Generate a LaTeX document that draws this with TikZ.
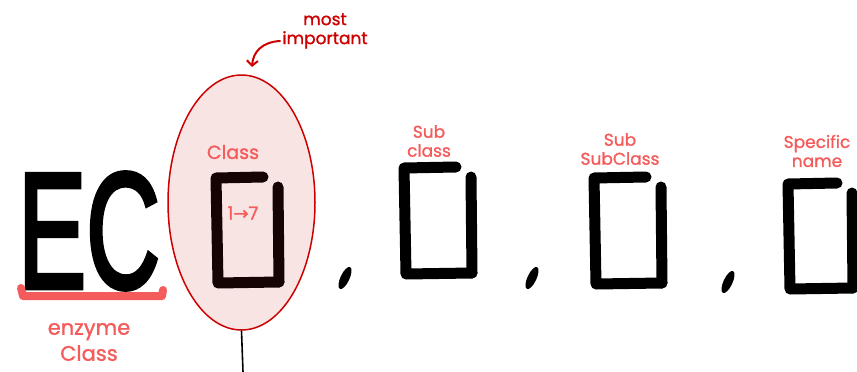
\documentclass[tikz,border=0pt]{standalone}
\usepackage{fontspec}
\newfontfamily\handfont[FakeBold=1.2]{Poppins}
\newfontfamily\ecfont[FakeBold=3]{Liberation Sans}
\newfontfamily\arrowfont[FakeBold=1.2]{DejaVu Sans}
\usepackage{tikz}
\usetikzlibrary{arrows.meta, shapes.geometric}
\definecolor{salmon}{HTML}{F45B5B}
\definecolor{darkred}{HTML}{CC0000}
\definecolor{pinkfill}{HTML}{F9E4E4}
\definecolor{ink}{HTML}{160303}

\begin{document}
\begin{tikzpicture}[x=1pt, y=-1pt,
  hand/.style={font=\handfont\fontsize{17}{19}\selectfont, text=salmon, inner sep=0pt, align=center},
  boxline/.style={line width=11pt, line cap=round, line join=round}]
  \useasboundingbox (0,0) rectangle (857,372);
  \node[ellipse, draw=darkred, fill=pinkfill, line width=1.5pt, minimum width=147pt, minimum height=255pt, inner sep=0pt] (imp) at (241.5,202.5) {};
  \coordinate (stem) at (243,372);
  \draw[line width=1.6pt] (imp.south) -- (stem);
  \node[font=\ecfont\fontsize{165}{165}\selectfont, xscale=0.62, inner sep=0pt] (ec) at (89,231) {EC};
  \draw[salmon, line width=8pt, line cap=round, line join=round] (21,288) -- (23,296) -- (162,296) -- (163,290);
  \foreach \bx/\by/\bw/\bh/\bc in {216/178/63/105/ink, 404/168/68/106/black, 594/178/68/106/black, 788/184/65/105/black}{
    \draw[boxline, \bc] (\bx+\bw-16,\by-1) -- (\bx,\by) -- (\bx+2,\by+\bh) -- (\bx+\bw,\by+\bh-1);
    \draw[boxline, \bc] (\bx+\bw-1,\by+9) -- (\bx+\bw,\by+\bh-1);
  }
  \fill[rotate around={-25:(345,278)}] (345,278) ellipse (4.5 and 12);
  \fill[rotate around={-25:(532,278)}] (532,278) ellipse (4.5 and 12);
  \fill[rotate around={-25:(728,282)}] (728,282) ellipse (4.5 and 12);
  \node[hand, font=\handfont\fontsize{21}{26}\selectfont] (enz) at (89,342) {enzyme\\Class};
  \node[hand, font=\handfont\fontsize{19}{19}\selectfont] (cls) at (233,152) {Class};
  \node[hand, font=\handfont\fontsize{18}{18}\selectfont] (range) at (243,213) {1{\arrowfont→}7};
  \node[hand] (sub) at (429,141) {Sub\\class};
  \node[hand] (subsub) at (620,149) {Sub\\SubClass};
  \node[hand] (spec) at (817,151) {Specific\\name};
  \node[hand, text=darkred] (impt) at (325,31) {most\\important};
  \coordinate (tip) at (252,67);
  \draw[darkred, line width=2pt, line cap=round, -{Straight Barb[length=5pt, width=11pt]}] (280,41) .. controls (262,42) and (253,52) .. (tip);
\end{tikzpicture}
\end{document}
